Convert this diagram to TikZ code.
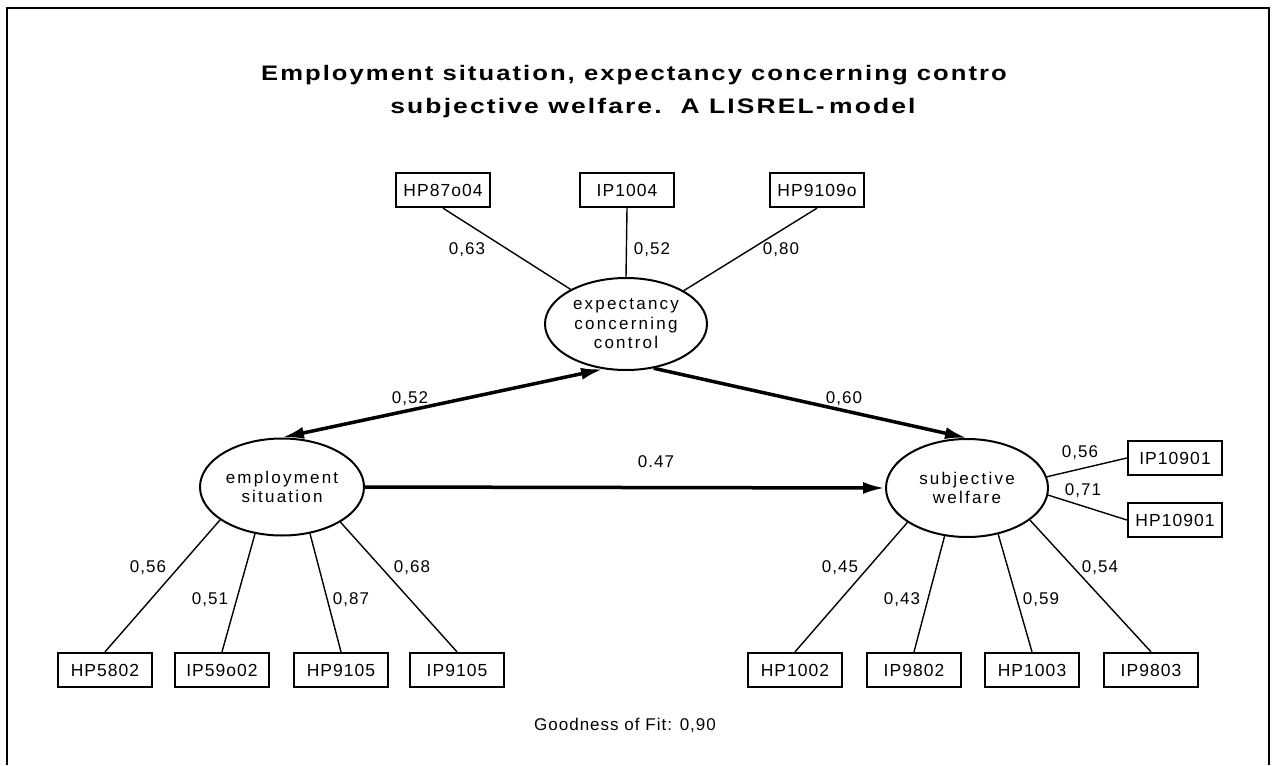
\documentclass[tikz,border=0pt]{standalone}
\usepackage{fontspec}
\usetikzlibrary{arrows.meta}
\usetikzlibrary{shapes.geometric}
\newfontfamily\labfont[LetterSpace=6]{Liberation Sans}
\newfontfamily\latfont[LetterSpace=13]{Liberation Sans}
\newfontfamily\headfont[LetterSpace=8]{Liberation Sans Bold}

\begin{document}
\begin{tikzpicture}[x=1pt, y=-1pt,
    manifest/.style={draw, line width=2.3pt, minimum width=94pt, minimum height=34pt, inner sep=0pt, font=\labfont\fontsize{17.5}{19}\selectfont},
    latent/.style={draw, ellipse, line width=2pt, inner sep=0pt, align=center, font=\latfont\fontsize{17}{19.5}\selectfont},
    coef/.style={inner sep=0pt, font=\labfont\fontsize{17}{19}\selectfont},
    heading/.style={inner sep=0pt, font=\headfont\fontsize{21}{24}\selectfont},
    loading/.style={line width=1.4pt},
    effect/.style={line width=3.5pt, -{Latex[length=22pt,width=12pt]}},
    twoway/.style={line width=3.5pt, {Latex[length=22pt,width=12pt]}-{Latex[length=22pt,width=12pt]}}]
    \useasboundingbox (0,0) rectangle (1273,765);
    \draw[line width=2.5pt] (7,765) -- (7,8) -- (1269,8) -- (1269,765);

    % title
    \node[heading] (title1) at (634,75) {\scalebox{1.22}[1]{Employment situation, expectancy concerning contro}};
    \node[heading] (title2) at (653,108) {\scalebox{1.26}[1]{subjective welfare.\ \ A LISREL-\,model}};

    % latent variables
    \node[latent, minimum width=162pt, minimum height=92pt] (control) at (626,324) {expectancy\\concerning\\control};
    \node[latent, minimum width=164pt, minimum height=97pt] (employ) at (282,487) {employment\\situation};
    \node[latent, minimum width=162pt, minimum height=98pt] (welfare) at (967,488) {subjective\\welfare};

    % indicators
    \node[manifest] (hp87o04) at (443,190) {HP87o04};
    \node[manifest] (ip1004) at (627,190) {IP1004};
    \node[manifest] (hp9109o) at (817,190) {HP9109o};

    \node[manifest] (hp5802) at (105,670) {HP5802};
    \node[manifest] (ip59o02) at (222,670) {IP59o02};
    \node[manifest] (hp9105) at (341,670) {HP9105};
    \node[manifest] (ip9105) at (457,670) {IP9105};

    \node[manifest] (hp1002) at (795,670) {HP1002};
    \node[manifest] (ip9802) at (914,670) {IP9802};
    \node[manifest] (hp1003) at (1032,670) {HP1003};
    \node[manifest] (ip9803) at (1151,670) {IP9803};

    \node[manifest] (ip10901) at (1175,458) {IP10901};
    \node[manifest] (hp10901) at (1175,520) {HP10901};

    % loadings
    \draw[loading] (hp87o04.south) -- (control.148);
    \draw[loading] (ip1004.south) -- (control.north);
    \draw[loading] (hp9109o.south) -- (control.30);

    \draw[loading] (employ.208) -- (hp5802.north);
    \draw[loading] (employ.240) -- (ip59o02.north);
    \draw[loading] (employ.301) -- (hp9105.north);
    \draw[loading] (employ.329) -- (ip9105.north);

    \draw[loading] (welfare.210) -- (hp1002.north);
    \draw[loading] (welfare.245) -- (ip9802.north);
    \draw[loading] (welfare.304) -- (hp1003.north);
    \draw[loading] (welfare.333) -- (ip9803.north);
    \draw[loading] (welfare.8) -- (ip10901.west);
    \draw[loading] (welfare.355) -- (hp10901.west);

    % structural paths
    \draw[twoway] (employ.north) -- (control.243);
    \draw[effect] (control.302) -- (welfare.north);
    \draw[effect] (employ.east) -- (welfare.west);

    % coefficients
    \node[coef] (c63) at (467,250) {0,63};
    \node[coef] (c52a) at (652,250) {0,52};
    \node[coef] (c80) at (781,250) {0,80};
    \node[coef] (c52b) at (410,399) {0,52};
    \node[coef] (c60) at (844,399) {0,60};
    \node[coef] (c47) at (656,462) {0.47};

    \node[coef] (c56a) at (148,568) {0,56};
    \node[coef] (c51) at (210,600) {0,51};
    \node[coef] (c87) at (351,600) {0,87};
    \node[coef] (c68) at (412,568) {0,68};

    \node[coef] (c45) at (840,568) {0,45};
    \node[coef] (c43) at (902,600) {0,43};
    \node[coef] (c59) at (1041,600) {0,59};
    \node[coef] (c54) at (1100,568) {0,54};
    \node[coef] (c56b) at (1080,453) {0,56};
    \node[coef] (c71) at (1083,491) {0,71};

    \node[coef] (gof) at (625,725) {Goodness of Fit: 0,90};
\end{tikzpicture}
\end{document}
